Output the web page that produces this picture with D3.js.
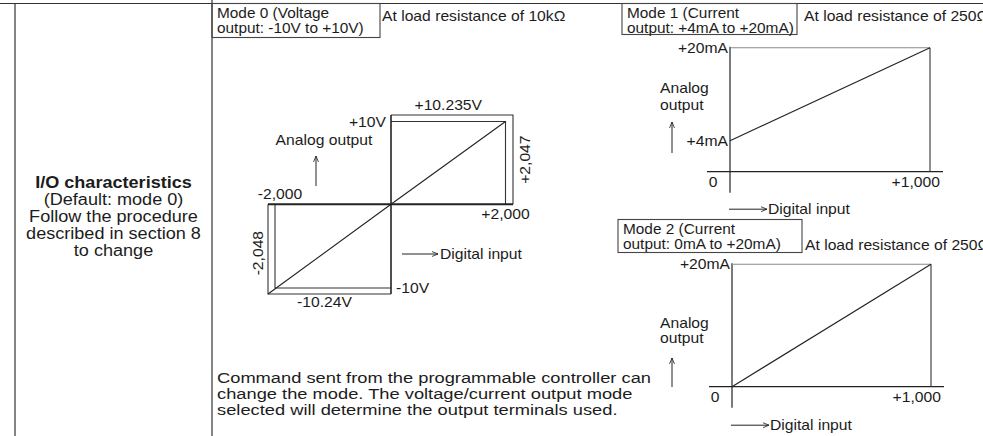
<!DOCTYPE html>
<html>
<head>
<meta charset="utf-8">
<script src="https://cdn.jsdelivr.net/npm/d3@7"></script>
<style>
body { margin: 0; background: #fff; }
svg text { font-family: "Liberation Sans", Arial, sans-serif; fill: #1c1c1c; }
</style>
</head>
<body>
<svg id="chart" width="983" height="436"></svg>
<script>
// mode 0 : voltage output, digital input -> analog output (V)
var m0Digital = [-2048, 0, 2000];
var m0Analog = [-10.24, 0, 10];
var m0DigitalLimits = [-2048, -2000, 2000, 2047];
var m0AnalogLimits = [-10.24, -10, 10, 10.235];
var m0XTicks = ["-2,048", "-2,000", "+2,000", "+2,047"];
var m0YTicks = ["-10.24V", "-10V", "+10V", "+10.235V"];

// mode 1 / mode 2 : current output (mA)
var m1Digital = [0, 1000];
var m1Analog = [4, 20];
var m2Digital = [0, 1000];
var m2Analog = [0, 20];
var curXTicks = ["0", "+1,000"];
var m1YTicks = ["+4mA", "+20mA"];
var m2YTicks = ["+20mA"];

var modeTitles = [
    ["Mode 0 (Voltage", "output: -10V to +10V)"],
    ["Mode 1 (Current", "output: +4mA to +20mA)"],
    ["Mode 2 (Current", "output: 0mA to +20mA)"]
];
var loadNotes = ["At load resistance of 10k\u03A9", "At load resistance of 250\u03A9", "At load resistance of 250\u03A9"];
var leftLines = ["I/O characteristics", "(Default: mode 0)", "Follow the procedure", "described in section 8", "to change"];
var noteLines = ["Command sent from the programmable controller can",
    "change the mode.  The voltage/current output mode",
    "selected will determine the output terminals used."];

var SX = 1.12;
var INK = "#222";
var svg = d3.select("#chart");

svg.append("defs").append("marker")
    .attr("id", "arr")
    .attr("viewBox", "0 0 10 10")
    .attr("refX", 9.5).attr("refY", 5)
    .attr("markerWidth", 7).attr("markerHeight", 7)
    .attr("markerUnits", "userSpaceOnUse")
    .attr("orient", "auto")
    .append("path")
    .attr("d", "M1,1.5 L9.5,5 L1,8.5")
    .attr("fill", "none").attr("stroke", INK).attr("stroke-width", 1.2);

function label(x, y, s, o) {
    o = o || {};
    var tr = "translate(" + x + "," + y + ")";
    if (o.rot) tr += " rotate(" + o.rot + ")";
    tr += " scale(" + (o.sx || SX) + ",1)";
    var t = svg.append("text")
        .attr("transform", tr)
        .attr("font-size", o.size || 14)
        .attr("text-anchor", o.anchor || "start")
        .text(s);
    if (o.bold) t.attr("font-weight", "bold");
    return t;
}

function seg(x1, y1, x2, y2, w, col) {
    return svg.append("line")
        .attr("x1", x1).attr("y1", y1).attr("x2", x2).attr("y2", y2)
        .attr("stroke", col || INK).attr("stroke-width", w || 1);
}

function arrow(x1, y1, x2, y2) {
    seg(x1, y1, x2, y2, 1).attr("marker-end", "url(#arr)");
}

// table frame
seg(0, 3.5, 983, 3.5, 1.2, "#333");
seg(15, 3.5, 15, 436, 1.2, "#333");
seg(212, 0, 212, 436, 1.2, "#333");

// left column text
leftLines.forEach(function (s, i) {
    label(113.5, 188 + i * 17, s, { anchor: "middle", size: 16, sx: 1.13, bold: i === 0 });
});

// mode title boxes
var boxes = [[212, 3.5, 168, 34], [622, 3.5, 175, 31], [618, 219.5, 184, 33]];
boxes.forEach(function (b, i) {
    svg.append("rect")
        .attr("x", b[0]).attr("y", b[1]).attr("width", b[2]).attr("height", b[3])
        .attr("fill", "none").attr("stroke", "#444").attr("stroke-width", 1.1);
    label(b[0] + 5, b[1] + 14.5, modeTitles[i][0], { sx: 1.1 });
    label(b[0] + 5, b[1] + 29.5, modeTitles[i][1], { sx: 1.1 });
});
label(382, 21, loadNotes[0]);
label(804, 21, loadNotes[1]);
label(805, 250, loadNotes[2]);

// ---------- mode 0 ----------
var x0 = d3.scaleLinear().domain([-2048, -2000, 0, 2000, 2047]).range([268, 275, 391, 505.5, 513]);
var y0 = d3.scaleLinear().domain([-10.24, -10, 0, 10, 10.235]).range([294, 288, 204.3, 121.5, 115]);
var line0 = d3.line().x(function (d) { return x0(d[0]); }).y(function (d) { return y0(d[1]); });

var frames0 = [
    [[0, m0AnalogLimits[3]], [m0DigitalLimits[3], m0AnalogLimits[3]], [m0DigitalLimits[3], 0]],
    [[0, m0AnalogLimits[2]], [m0DigitalLimits[2], m0AnalogLimits[2]], [m0DigitalLimits[2], 0]],
    [[0, m0AnalogLimits[0]], [m0DigitalLimits[0], m0AnalogLimits[0]], [m0DigitalLimits[0], 0]],
    [[0, m0AnalogLimits[1]], [m0DigitalLimits[1], m0AnalogLimits[1]], [m0DigitalLimits[1], 0]]
];
svg.selectAll(".frame0")
    .data(frames0)
    .enter().append("path")
    .attr("class", "frame0")
    .attr("d", line0)
    .attr("fill", "none").attr("stroke", "#333").attr("stroke-width", 1.1);

// axes
seg(x0(m0DigitalLimits[0]), y0(0), x0(m0DigitalLimits[3]), y0(0), 2);
seg(x0(0), y0(m0AnalogLimits[0]), x0(0), y0(m0AnalogLimits[3]), 1.6);

// characteristic
svg.append("path")
    .datum(m0Digital.map(function (d, i) { return [d, m0Analog[i]]; }))
    .attr("d", line0)
    .attr("fill", "none").attr("stroke", INK).attr("stroke-width", 1.1);

// labels
label(x0(1000), y0(m0AnalogLimits[3]) - 5, m0YTicks[3], { anchor: "middle" });
label(x0(0) - 5, y0(m0AnalogLimits[2]) + 5, m0YTicks[2], { anchor: "end" });
label(x0(0) + 5, y0(m0AnalogLimits[1]) + 5, m0YTicks[1]);
label((x0(m0DigitalLimits[0]) + x0(0)) / 2 - 5, y0(m0AnalogLimits[0]) + 13, m0YTicks[0], { anchor: "middle" });
label(x0(m0DigitalLimits[1]) + 5, y0(0) - 5, m0XTicks[1], { anchor: "middle" });
label(x0(m0DigitalLimits[2]), y0(0) + 15, m0XTicks[2], { anchor: "middle" });
label(x0(m0DigitalLimits[3]) + 17, (y0(0) + y0(m0AnalogLimits[3])) / 2, m0XTicks[3], { anchor: "middle", rot: -90 });
label(x0(m0DigitalLimits[0]) - 5, (y0(0) + y0(m0AnalogLimits[0])) / 2 + 4, m0XTicks[0], { anchor: "middle", rot: -90 });
label(324, 145, "Analog output", { anchor: "middle" });
arrow(316, 186, 316, 156);
arrow(402, 254, 438, 254);
label(440, 259, "Digital input");

// ---------- mode 1 & mode 2 ----------
function currentChart(x, y, dig, ana, yTicks, yTickVals, lab) {
    var g = d3.line().x(function (d) { return x(d[0]); }).y(function (d) { return y(d[1]); });
    var x0v = x(0), x1v = x(1000), yb = y(0), yt = y(20);
    // axes
    seg(x0v - 23, yb, x1v + 13, yb, 1.2);
    seg(x0v, yt - 1, x0v, yb + 21, 1.2);
    // full-scale frame
    seg(x0v, yt, x1v, yt, 1.1, "#888");
    seg(x1v, yt, x1v, yb, 1.1, "#333");
    svg.append("path")
        .datum(dig.map(function (d, i) { return [d, ana[i]]; }))
        .attr("d", g)
        .attr("fill", "none").attr("stroke", INK).attr("stroke-width", 1.1);
    yTicks.forEach(function (t, i) {
        label(x0v - 2, y(yTickVals[i]) + 5, t, { anchor: "end" });
    });
    label(x0v - 17, yb + 15, curXTicks[0], { anchor: "middle" });
    label(x1v + 10, yb + 15, curXTicks[1], { anchor: "end" });
    label(660, lab[0], "Analog");
    label(660, lab[1], "output");
    arrow(672, lab[3], 672, lab[2]);
    arrow(x0v - 1, yb + lab[4], x0v + 37, yb + lab[4]);
    label(x0v + 38, yb + lab[4] + 4.5, "Digital input");
}

var x1 = d3.scaleLinear().domain([0, 1000]).range([730, 930]);
var y1 = d3.scaleLinear().domain([0, 4, 20]).range([171.7, 140.7, 47.7]);
currentChart(x1, y1, m1Digital, m1Analog, m1YTicks, [4, 20], [93, 110, 122, 153, 37.5]);

var x2 = d3.scaleLinear().domain([0, 1000]).range([732, 931]);
var y2 = d3.scaleLinear().domain([0, 20]).range([386.7, 264.3]);
currentChart(x2, y2, m2Digital, m2Analog, m2YTicks, [20], [328, 343, 358, 387, 38.5]);

// note under mode 0
noteLines.forEach(function (s, i) {
    label(217, 383 + i * 16, s, { size: 15, sx: 1.22 });
});
</script>
</body>
</html>
